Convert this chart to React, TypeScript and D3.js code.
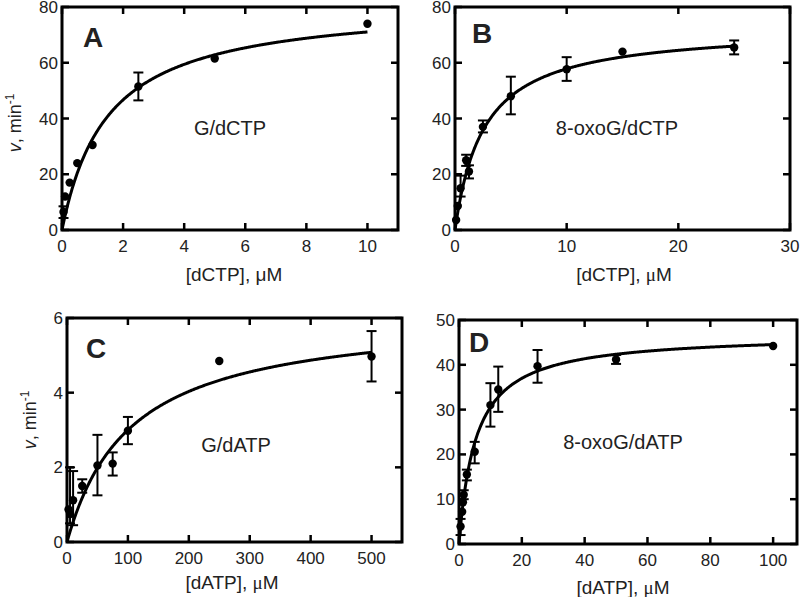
import React from 'react';
import * as d3 from 'd3';

// ---- Panel A: G/dCTP ----
const concA = [0.05, 0.1, 0.25, 0.5, 1, 2.5, 5, 10];
const rateA = [6.5, 12, 17, 24, 30.5, 51.5, 61.5, 74];
const loA = [4.3, null, null, null, null, 46.5, null, null];
const hiA = [8.5, null, null, null, null, 56.5, null, null];
const fitA = { vmax: 81.7, km: 1.5, xmax: 10 };

// ---- Panel B: 8-oxoG/dCTP ----
const concB = [0.1, 0.25, 0.5, 1, 1.25, 2.5, 5, 10, 15, 25];
const rateB = [3.6, 8.6, 15, 25, 21, 37, 48, 57.7, 64, 65.5];
const loB = [null, null, 12, 23, 18.5, 35, 41.5, 53.5, null, 63];
const hiB = [null, null, 19.5, 27, 23.2, 39.3, 55, 62, null, 68];
const fitB = { vmax: 72.8, km: 2.59, xmax: 25 };

// ---- Panel C: G/dATP ----
const concC = [2.5, 5, 10, 25, 50, 75, 100, 250, 500];
const rateC = [0.87, 0.75, 1.12, 1.5, 2.05, 2.1, 2.98, 4.85, 4.97];
const loC = [null, 0.5, 0.45, 1.32, 1.25, 1.78, 2.62, null, 4.3];
const hiC = [null, 2.0, 1.9, 1.68, 2.87, 2.4, 3.35, null, 5.65];
const fitC = { vmax: 6.145, km: 104.8, xmax: 500 };

// ---- Panel D: 8-oxoG/dATP ----
const concD = [0.5, 1, 1.25, 1.5, 2.5, 5, 10, 12.5, 25, 50, 100];
const rateD = [3.9, 7.2, 9.3, 11, 15.5, 20.6, 31, 34.5, 39.7, 41.2, 44.2];
const loD = [2.0, null, null, 10, 14.2, 18, 26.2, 29.5, 36, 40.2, null];
const hiD = [5.6, null, null, 12, 16.6, 22.8, 35.9, 39.6, 43.3, 42.2, null];
const fitD = { vmax: 46.9, km: 5.37, xmax: 100 };

const ticksXA = [0, 2, 4, 6, 8, 10];
const ticksYA = [0, 20, 40, 60, 80];
const ticksXB = [0, 10, 20, 30];
const ticksYB = [0, 20, 40, 60, 80];
const ticksXC = [0, 100, 200, 300, 400, 500];
const ticksYC = [0, 2, 4, 6];
const ticksXD = [0, 20, 40, 60, 80, 100];
const ticksYD = [0, 10, 20, 30, 40, 50];

const FONT = "'Liberation Sans', Arial, Helvetica, sans-serif";

type PanelProps = {
  box: { l: number; r: number; t: number; b: number };
  xDomain: [number, number];
  yDomain: [number, number];
  xTicks: number[];
  yTicks: number[];
  conc: number[];
  rate: number[];
  lo: (number | null)[];
  hi: (number | null)[];
  fit: { vmax: number; km: number; xmax: number };
  letter: string;
  letterPos: [number, number];
  inner: string;
  innerPos: [number, number];
  substrate: string;
  serifMu: boolean;
  xLabelPos: [number, number];
  yLabelPos?: [number, number];
};

function Panel(p: PanelProps) {
  const x = d3.scaleLinear().domain(p.xDomain).range([p.box.l, p.box.r]);
  const y = d3.scaleLinear().domain(p.yDomain).range([p.box.b, p.box.t]);
  const xs = d3.range(0, 401).map((i) => (p.fit.xmax * i) / 400);
  const line = d3
    .line<number>()
    .x((d) => x(d))
    .y((d) => y((p.fit.vmax * d) / (p.fit.km + d)));
  const tl = 7;
  return (
    <g>
      {/* curve */}
      <path d={line(xs) || ''} fill="none" stroke="#000" strokeWidth={3} />
      {/* error bars */}
      {p.conc.map((c, i) => {
        const lo = p.lo[i];
        const hi = p.hi[i];
        if (lo == null || hi == null) return null;
        const cx = x(c);
        return (
          <g key={'e' + i} stroke="#000" strokeWidth={2}>
            <line x1={cx} x2={cx} y1={y(lo)} y2={y(hi)} />
            <line x1={cx - 5} x2={cx + 5} y1={y(lo)} y2={y(lo)} />
            <line x1={cx - 5} x2={cx + 5} y1={y(hi)} y2={y(hi)} />
          </g>
        );
      })}
      {/* points */}
      {p.conc.map((c, i) => (
        <circle key={'p' + i} cx={x(c)} cy={y(p.rate[i])} r={4.2} fill="#000" />
      ))}
      {/* ticks */}
      {p.xTicks.map((t) => (
        <g key={'xt' + t} stroke="#000" strokeWidth={2.5}>
          <line x1={x(t)} x2={x(t)} y1={p.box.b} y2={p.box.b - tl} />
          <line x1={x(t)} x2={x(t)} y1={p.box.t} y2={p.box.t + tl} />
        </g>
      ))}
      {p.yTicks.map((t) => (
        <g key={'yt' + t} stroke="#000" strokeWidth={2.5}>
          <line x1={p.box.l} x2={p.box.l + tl} y1={y(t)} y2={y(t)} />
          <line x1={p.box.r} x2={p.box.r - tl} y1={y(t)} y2={y(t)} />
        </g>
      ))}
      {/* frame */}
      <rect
        x={p.box.l}
        y={p.box.t}
        width={p.box.r - p.box.l}
        height={p.box.b - p.box.t}
        fill="none"
        stroke="#000"
        strokeWidth={3}
      />
      {/* tick labels */}
      {p.xTicks.map((t) => (
        <text key={'xl' + t} x={x(t)} y={p.box.b + 22} textAnchor="middle" fontSize={17} fontFamily={FONT} fill="#222">
          {t}
        </text>
      ))}
      {p.yTicks.map((t) => (
        <text key={'yl' + t} x={p.box.l - 4} y={y(t) + 6} textAnchor="end" fontSize={17} fontFamily={FONT} fill="#222">
          {t}
        </text>
      ))}
      {/* panel letter */}
      <text x={p.letterPos[0]} y={p.letterPos[1]} fontSize={28} fontWeight="bold" fontFamily={FONT} fill="#222">
        {p.letter}
      </text>
      {/* inner label */}
      <text x={p.innerPos[0]} y={p.innerPos[1] + 7} textAnchor="middle" fontSize={20} fontFamily={FONT} fill="#222">
        {p.inner}
      </text>
      {/* x label */}
      <text x={p.xLabelPos[0]} y={p.xLabelPos[1]} textAnchor="middle" fontSize={19} fontFamily={FONT} fill="#222">
        {`[${p.substrate}], `}
        <tspan fontFamily={p.serifMu ? "'Liberation Serif', 'Times New Roman', serif" : FONT}>μ</tspan>
        M
      </text>
      {/* y label */}
      {p.yLabelPos && (
        <text
          transform={`translate(${p.yLabelPos[0]},${p.yLabelPos[1]}) rotate(-90)`}
          textAnchor="middle"
          fontSize={18}
          fontFamily={FONT}
          fill="#222"
        >
          <tspan fontStyle="italic">v</tspan>, min
          <tspan dy={-7} fontSize={12}>-1</tspan>
        </text>
      )}
    </g>
  );
}

export default function App() {
  return (
    <svg
      width={800}
      height={597}
      viewBox="0 0 800 597"
      style={{ position: 'absolute', left: 0, top: 0, background: '#fff' }}
    >
      <rect x={0} y={0} width={800} height={597} fill="#fff" />
      <Panel
        box={{ l: 62, r: 398, t: 7, b: 230 }}
        xDomain={[0, 11]}
        yDomain={[0, 80]}
        xTicks={ticksXA}
        yTicks={ticksYA}
        conc={concA}
        rate={rateA}
        lo={loA}
        hi={hiA}
        fit={fitA}
        letter="A"
        letterPos={[83, 47]}
        inner="G/dCTP"
        innerPos={[230, 128]}
        substrate="dCTP"
        serifMu={false}
        xLabelPos={[234, 281]}
        yLabelPos={[21, 123]}
      />
      <Panel
        box={{ l: 455, r: 790, t: 7, b: 230 }}
        xDomain={[0, 30]}
        yDomain={[0, 80]}
        xTicks={ticksXB}
        yTicks={ticksYB}
        conc={concB}
        rate={rateB}
        lo={loB}
        hi={hiB}
        fit={fitB}
        letter="B"
        letterPos={[472, 43]}
        inner="8-oxoG/dCTP"
        innerPos={[617, 128]}
        substrate="dCTP"
        serifMu={true}
        xLabelPos={[624, 281]}
      />
      <Panel
        box={{ l: 67, r: 402, t: 318, b: 542 }}
        xDomain={[0, 550]}
        yDomain={[0, 6]}
        xTicks={ticksXC}
        yTicks={ticksYC}
        conc={concC}
        rate={rateC}
        lo={loC}
        hi={hiC}
        fit={fitC}
        letter="C"
        letterPos={[86, 358]}
        inner="G/dATP"
        innerPos={[236, 445]}
        substrate="dATP"
        serifMu={true}
        xLabelPos={[232, 589]}
        yLabelPos={[36, 420]}
      />
      <Panel
        box={{ l: 459, r: 797, t: 320, b: 544 }}
        xDomain={[0, 107.6]}
        yDomain={[0, 50]}
        xTicks={ticksXD}
        yTicks={ticksYD}
        conc={concD}
        rate={rateD}
        lo={loD}
        hi={hiD}
        fit={fitD}
        letter="D"
        letterPos={[469, 352]}
        inner="8-oxoG/dATP"
        innerPos={[623, 442]}
        substrate="dATP"
        serifMu={true}
        xLabelPos={[623, 594]}
      />
    </svg>
  );
}
